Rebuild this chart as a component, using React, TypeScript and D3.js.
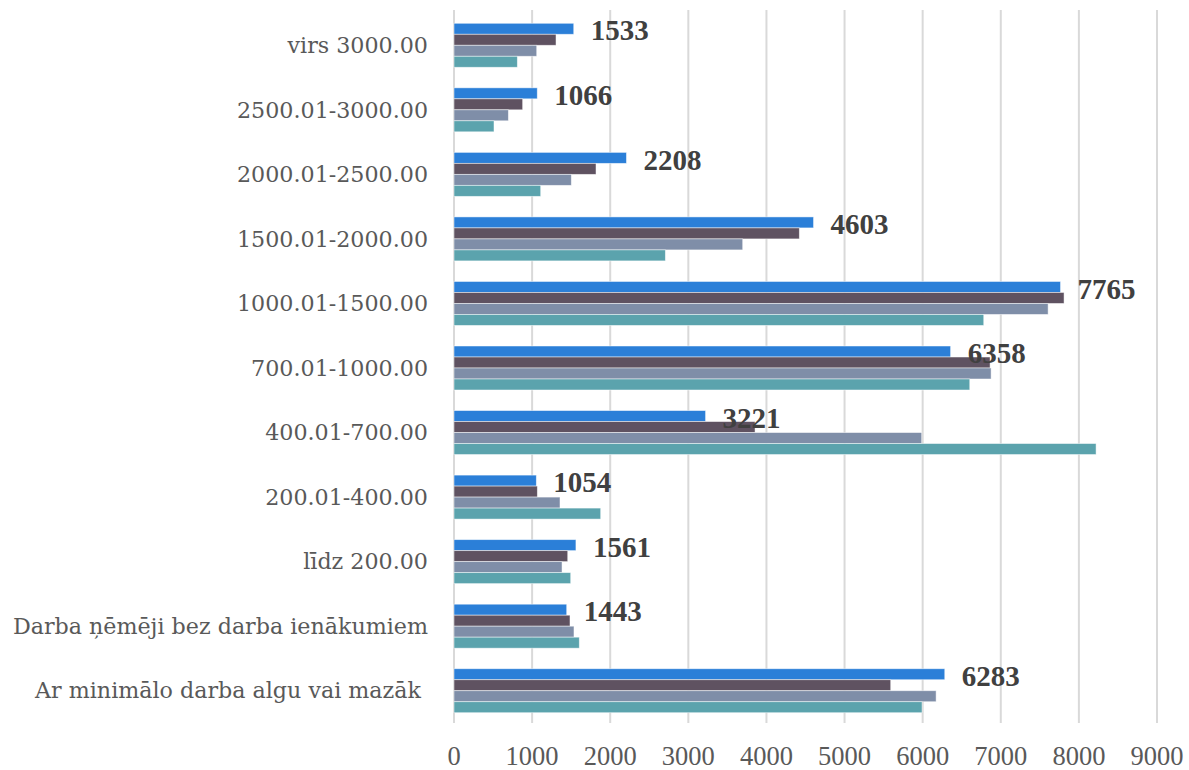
import { useEffect, useRef } from 'react';
import * as d3 from 'd3';

const categories = [
  'virs 3000.00',
  '2500.01-3000.00',
  '2000.01-2500.00',
  '1500.01-2000.00',
  '1000.01-1500.00',
  '700.01-1000.00',
  '400.01-700.00',
  '200.01-400.00',
  'līdz 200.00',
  'Darba ņēmēji bez darba ienākumiem',
  'Ar minimālo darba algu vai mazāk ',
];

// series listed top bar to bottom bar within each group
const seriesNames = ['s1', 's2', 's3', 's4'];
const s1 = [1533, 1066, 2208, 4603, 7765, 6358, 3221, 1054, 1561, 1443, 6283];
const s2 = [1306, 879, 1818, 4421, 7810, 6863, 3854, 1067, 1456, 1485, 5591];
const s3 = [1059, 696, 1502, 3696, 7606, 6876, 5988, 1357, 1383, 1536, 6172];
const s4 = [811, 512, 1110, 2706, 6782, 6603, 8220, 1878, 1494, 1604, 5992];
const seriesColors = ['#2b7fd8', '#5f5261', '#7f8ea8', '#5ba3ad'];
const xTicks = [0, 1000, 2000, 3000, 4000, 5000, 6000, 7000, 8000, 9000];

const W = 1189;
const H = 770;
const FONT = '"Liberation Serif", serif';
const CAT_FONT = '"DejaVu Serif", serif';

export default function App() {
  const ref = useRef<SVGSVGElement>(null);

  useEffect(() => {
    const svg = d3.select(ref.current);
    svg.selectAll('*').remove();

    const left = 454;
    const right = 1157;
    const top = 13;
    const bottom = 723;

    const x = d3.scaleLinear().domain([0, 9000]).range([left, right]);
    const y = d3
      .scaleBand()
      .domain(categories)
      .range([top, bottom])
      .paddingInner(0.3186)
      .paddingOuter(0.1593);
    const ySub = d3
      .scaleBand()
      .domain(seriesNames)
      .range([0, y.bandwidth()]);

    const values = [s1, s2, s3, s4];

    // gridlines
    svg
      .append('g')
      .selectAll('line')
      .data(xTicks)
      .enter()
      .append('line')
      .attr('x1', d => x(d))
      .attr('x2', d => x(d))
      .attr('y1', 10)
      .attr('y2', bottom)
      .attr('stroke', '#d9d9d9')
      .attr('stroke-width', 2);

    // tick labels
    svg
      .append('g')
      .selectAll('text')
      .data(xTicks)
      .enter()
      .append('text')
      .attr('x', d => x(d))
      .attr('y', 765)
      .attr('text-anchor', 'middle')
      .style('font-family', FONT)
      .style('font-size', '26.5px')
      .style('fill', '#595959')
      .text(d => String(d));

    // category labels
    svg
      .append('g')
      .selectAll('text')
      .data(categories)
      .enter()
      .append('text')
      .attr('x', 428)
      .attr('y', d => (y(d) as number) + y.bandwidth() / 2)
      .attr('dy', '0.35em')
      .attr('text-anchor', 'end')
      .style('white-space', 'pre')
      .style('font-family', CAT_FONT)
      .style('font-size', '22.2px')
      .style('fill', '#595959')
      .text(d => d);

    // bars
    const groups = svg
      .append('g')
      .selectAll('g')
      .data(categories)
      .enter()
      .append('g')
      .attr('transform', d => `translate(0, ${y(d)})`);

    groups
      .selectAll('rect')
      .data((d, i) => seriesNames.map((s, k) => ({ s, k, v: values[k][i] })))
      .enter()
      .append('rect')
      .attr('x', x(0))
      .attr('y', d => ySub(d.s) as number)
      .attr('width', d => x(d.v) - x(0))
      .attr('height', ySub.bandwidth())
      .attr('fill', d => seriesColors[d.k])
      .attr('stroke', 'rgba(255,255,255,0.6)')
      .attr('stroke-width', 0.8);

    // data labels for the top series
    svg
      .append('g')
      .selectAll('text')
      .data(categories)
      .enter()
      .append('text')
      .attr('x', (d, i) => x(s1[i]) + 17)
      .attr('y', d => (y(d) as number) + 7)
      .attr('dy', '0.35em')
      .style('font-family', FONT)
      .style('font-weight', 'bold')
      .style('font-size', '29px')
      .style('fill', '#404040')
      .text((d, i) => String(s1[i]));
  }, []);

  return (
    <svg
      ref={ref}
      width={W}
      height={H}
      style={{ position: 'absolute', left: 0, top: 0, background: '#fff' }}
    />
  );
}
